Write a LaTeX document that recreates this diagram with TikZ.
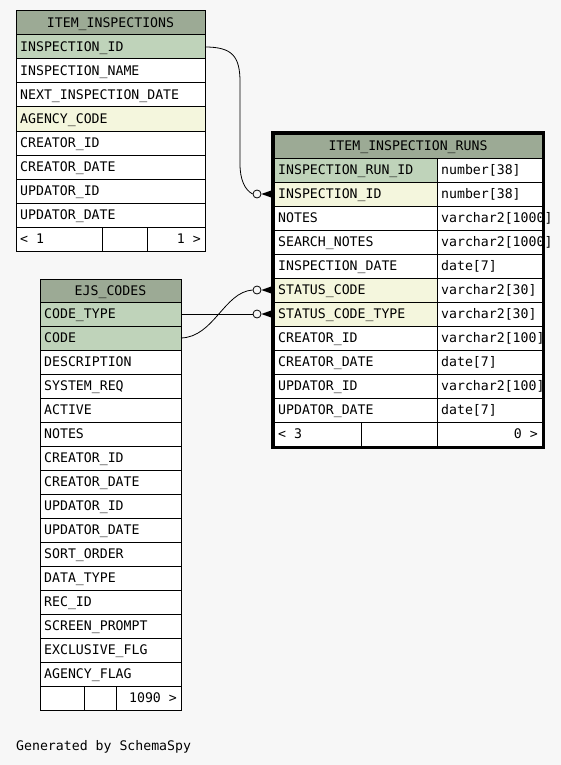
\documentclass[tikz,border=0pt]{standalone}
\usepackage{fontspec}
\newfontfamily\tabfont{DejaVu Sans Mono}
\definecolor{bg}{HTML}{F7F7F7}
\definecolor{hdr}{HTML}{9CAA95}
\definecolor{pk}{HTML}{BFD3BA}
\definecolor{fk}{HTML}{F4F6DD}
\tikzset{
 cell/.style={draw=black, line width=1pt, anchor=north west, inner sep=0pt, outer sep=0pt, minimum height=24pt},
 txt/.style={inner sep=0pt, text height=9.6pt, text depth=0pt, font=\tabfont\fontsize{13.2}{15}\selectfont},
 lbl/.style={txt, anchor=west},
 rlbl/.style={txt, anchor=east},
 odot/.style={circle, draw=black, line width=0.8pt, fill=bg, minimum size=8pt, inner sep=0pt},
 conn/.style={draw=black, line width=0.8pt},
 crow/.style={fill=black},
}
\newcommand\tcell[6]{\node[cell, fill=#5, minimum width=#4pt] (#1) at (#2,#3) {};
 \node[lbl] (#1t) at ([xshift=4pt]#1.west) {#6};}
\begin{document}
\begin{tikzpicture}[x=1pt,y=-1pt]
\fill[bg] (0,0) rectangle (561,765);
\useasboundingbox (0,0) rectangle (561,765);

% ITEM_INSPECTIONS
\node[cell, fill=hdr, minimum width=189pt] (iih) at (16,11) {};
\node[txt] (iiht) at (iih) {ITEM\_INSPECTIONS};
\foreach [count=\i] \t/\f in {INSPECTION\_ID/pk, INSPECTION\_NAME/white, NEXT\_INSPECTION\_DATE/white, AGENCY\_CODE/fk, CREATOR\_ID/white, CREATOR\_DATE/white, UPDATOR\_ID/white, UPDATOR\_DATE/white}{
 \pgfmathsetmacro\yy{35+24*(\i-1)}
 \tcell{ii\i}{16}{\yy}{189}{\f}{\t}
}
\node[cell, fill=white, minimum width=86pt] (iif1) at (16,227) {};
\node[cell, fill=white, minimum width=45pt] (iif2) at (102,227) {};
\node[cell, fill=white, minimum width=58pt] (iif3) at (147,227) {};
\node[lbl] (iif1t) at ([xshift=4pt]iif1.west) {< 1};
\node[rlbl] (iif3t) at ([xshift=-4pt]iif3.east) {1 >};

% EJS_CODES
\node[cell, fill=hdr, minimum width=141pt] (ejh) at (40,279) {};
\node[txt] (ejht) at (ejh) {EJS\_CODES};
\foreach [count=\i] \t/\f in {CODE\_TYPE/pk, CODE/pk, DESCRIPTION/white, SYSTEM\_REQ/white, ACTIVE/white, NOTES/white, CREATOR\_ID/white, CREATOR\_DATE/white, UPDATOR\_ID/white, UPDATOR\_DATE/white, SORT\_ORDER/white, DATA\_TYPE/white, REC\_ID/white, SCREEN\_PROMPT/white, EXCLUSIVE\_FLG/white, AGENCY\_FLAG/white}{
 \pgfmathsetmacro\yy{302+24*(\i-1)}
 \tcell{ej\i}{40}{\yy}{141}{\f}{\t}
}
\node[cell, fill=white, minimum width=44pt] (ejf1) at (40,686) {};
\node[cell, fill=white, minimum width=32pt] (ejf2) at (84,686) {};
\node[cell, fill=white, minimum width=65pt] (ejf3) at (116,686) {};
\node[rlbl] (ejf3t) at ([xshift=-4pt]ejf3.east) {1090 >};

% ITEM_INSPECTION_RUNS
\node[cell, fill=hdr, minimum width=268pt] (irh) at (274,134) {};
\node[txt] (irht) at (irh) {ITEM\_INSPECTION\_RUNS};
\foreach [count=\i] \t/\ty/\f in {INSPECTION\_RUN\_ID/number[38]/pk, INSPECTION\_ID/number[38]/fk, NOTES/varchar2[1000]/white, SEARCH\_NOTES/varchar2[1000]/white, INSPECTION\_DATE/date[7]/white, STATUS\_CODE/varchar2[30]/fk, STATUS\_CODE\_TYPE/varchar2[30]/fk, CREATOR\_ID/varchar2[100]/white, CREATOR\_DATE/date[7]/white, UPDATOR\_ID/varchar2[100]/white, UPDATOR\_DATE/date[7]/white}{
 \pgfmathsetmacro\yy{158+24*(\i-1)}
 \tcell{ir\i}{274}{\yy}{163}{\f}{\t}
 \tcell{irt\i}{437}{\yy}{105}{white}{\ty}
}
\node[cell, fill=white, minimum width=87pt] (irf1) at (274,422) {};
\node[cell, fill=white, minimum width=76pt] (irf2) at (361,422) {};
\node[cell, fill=white, minimum width=105pt] (irf3) at (437,422) {};
\node[lbl] (irf1t) at ([xshift=4pt]irf1.west) {< 3};
\node[rlbl] (irf3t) at ([xshift=-4pt]irf3.east) {0 >};

% connectors
\node[odot] (o1) at ([xshift=-17pt]ir2.west) {};
\node[odot] (o2) at ([xshift=-17pt]ir6.west) {};
\node[odot] (o3) at ([xshift=-17pt]ir7.west) {};
\coordinate (k1) at ([xshift=-2pt]ir2.west);
\coordinate (k2) at ([xshift=-2pt]ir6.west);
\coordinate (k3) at ([xshift=-2pt]ir7.west);
\draw[conn] (ii1.east) .. controls (232,47) and (240,56) .. (240,82) -- (240,164) .. controls (240,180) and (245,190) .. (o1.west);
\draw[conn] (ej2.east) .. controls (214,337) and (224,292) .. (o2.west);
\draw[conn] (ej1.east) -- (o3.west);
\foreach \o/\k in {o1/k1, o2/k2, o3/k3}{
 \fill[crow] (\o.east) -- ([yshift=3.8pt]\k) -- ([yshift=-3.8pt]\k) -- cycle;
}
\draw[line width=3.4pt] (272.3,132.5) rectangle (543.6,447.2);

\node[lbl] (gen) at (16,746) {Generated by SchemaSpy};
\end{tikzpicture}
\end{document}
